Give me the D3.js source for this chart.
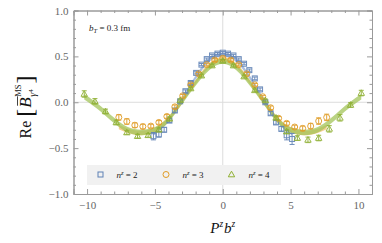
<!DOCTYPE html>
<html><head><meta charset="utf-8">
<script src="https://cdn.jsdelivr.net/npm/d3@7"></script>
<style>body{margin:0;background:#fff}svg{display:block}</style>
</head><body>
<svg id="c" width="382" height="243"></svg>
<script>
// ---- data ----
const blueX = [-5.11,-4.71,-4.32,-3.93,-3.53,-3.14,-2.75,-2.36,-1.96,-1.57,-1.18,-0.79,-0.39,0,0.39,0.79,1.18,1.57,1.96,2.36,2.75,3.14,3.53,3.93,4.32,4.71,5.11];
const blueY = [-0.37,-0.35,-0.30,-0.20,-0.09,0.01,0.12,0.21,0.32,0.41,0.47,0.51,0.53,0.54,0.53,0.51,0.47,0.42,0.35,0.26,0.14,0.00,-0.12,-0.22,-0.29,-0.36,-0.40];
const blueErr = [0.04,0.03,0.025,0.02,0.02,0.015,0.015,0.015,0.012,0.012,0.012,0.012,0.012,0.012,0.012,0.012,0.012,0.012,0.012,0.015,0.015,0.015,0.02,0.02,0.025,0.05,0.06];

const orangeX = [-7.66,-7.07,-6.48,-5.89,-5.30,-4.71,-4.12,-3.53,-2.95,-2.36,-1.77,-1.18,-0.59,0,0.59,1.18,1.77,2.36,2.95,3.53,4.12,4.71,5.30,5.89,6.48,7.07,7.66];
const orangeY = [-0.165,-0.21,-0.25,-0.265,-0.26,-0.22,-0.155,-0.05,0.07,0.19,0.31,0.41,0.46,0.48,0.46,0.41,0.31,0.19,0.06,-0.06,-0.175,-0.23,-0.27,-0.285,-0.26,-0.205,-0.165];
const orangeErr = [0.03,0.03,0.025,0.025,0.02,0.02,0.02,0.02,0.015,0.015,0.015,0.015,0.015,0.015,0.015,0.015,0.015,0.015,0.015,0.02,0.02,0.02,0.02,0.025,0.03,0.035,0.035];

const greenX = [-10.21,-9.42,-8.64,-7.85,-7.07,-6.28,-5.50,-4.71,-3.93,-3.14,-2.36,-1.57,-0.79,0,0.79,1.57,2.36,3.14,3.93,4.71,5.50,6.28,7.07,7.85,8.64,9.42,10.21];
const greenY = [0.09,0.01,-0.10,-0.22,-0.33,-0.37,-0.36,-0.30,-0.18,0.02,0.15,0.29,0.40,0.45,0.40,0.28,0.13,0.02,-0.17,-0.32,-0.39,-0.41,-0.39,-0.29,-0.17,-0.03,0.10];
const greenErr = [0.035,0.03,0.025,0.025,0.02,0.02,0.02,0.02,0.02,0.015,0.015,0.015,0.015,0.015,0.015,0.015,0.015,0.015,0.02,0.02,0.025,0.03,0.03,0.035,0.035,0.025,0.03];

// fitted bands (centre values)
const blueBandX = [-5.11,-4,-3,-2,-1,0,1,2,3,4,5.11];
const blueBandY = [-0.34,-0.19,0.03,0.27,0.46,0.52,0.46,0.27,0.03,-0.19,-0.34];
const orangeBandX = [-7.66,-7,-6,-5,-4,-3,-2,-1,0,1,2,3,4,5,6,7,7.66];
const orangeBandY = [-0.27,-0.31,-0.335,-0.30,-0.18,0.01,0.22,0.40,0.47,0.40,0.22,0.01,-0.18,-0.30,-0.335,-0.31,-0.27];
const greenBandX = [-10.21,-9,-8,-7,-6,-5,-4,-3,-2,-1,0,1,2,3,4,5,6,7,8,9,10.21];
const greenBandY = [0.06,-0.07,-0.20,-0.30,-0.33,-0.30,-0.19,0.01,0.21,0.38,0.45,0.38,0.21,0.01,-0.19,-0.30,-0.33,-0.30,-0.20,-0.07,0.06];

const xMajor = [-10,-5,0,5,10];
const yMajor = [-1,-0.5,0,0.5,1];
const legendLabels = ["2","3","4"];

// ---- drawing ----
const svg = d3.select("#c");
const x = d3.scaleLinear([-11,11],[73.5,372]);
const y = d3.scaleLinear([-1,1],[194,10.5]);
const FONT = "'Liberation Serif', 'Times New Roman', serif";
const frameCol = "#9a9a9a";

// grid lines at 0
svg.append("line").attr("x1",x(0)).attr("x2",x(0)).attr("y1",y(1)).attr("y2",y(-1)).attr("stroke","#dcdcdc").attr("stroke-width",1);
svg.append("line").attr("x1",x(-11)).attr("x2",x(11)).attr("y1",y(0)).attr("y2",y(0)).attr("stroke","#dcdcdc").attr("stroke-width",1);

// legend background
svg.append("rect").attr("x",87).attr("y",165).attr("width",194).attr("height",20).attr("fill","#f1f1f1");

// axes
const xMinor = d3.range(-11,12,1).filter(v=>!xMajor.includes(v) && v>-11 && v<11);
const yMinor = d3.range(-10,11,1).map(v=>v/10).filter(v=>!yMajor.some(m=>Math.abs(m-v)<1e-9));
function styleAxis(g){
  g.attr("font-family",FONT).attr("font-size",11);
  g.select(".domain").attr("stroke",frameCol);
  g.selectAll(".tick line").attr("stroke",frameCol);
  g.selectAll("text").attr("fill","#666").attr("font-family",FONT).attr("font-size",11);
}
svg.append("g").attr("transform",`translate(0,${y(-1)})`)
  .call(d3.axisBottom(x).tickValues(xMajor).tickSize(-5).tickPadding(7).tickFormat(d3.format("d"))).call(styleAxis);
svg.append("g").attr("transform",`translate(0,${y(-1)})`)
  .call(d3.axisBottom(x).tickValues(xMinor).tickSize(-2.5).tickFormat("")).call(styleAxis);
svg.append("g").attr("transform",`translate(0,${y(1)})`)
  .call(d3.axisTop(x).tickValues(xMajor).tickSize(-5).tickFormat("")).call(styleAxis);
svg.append("g").attr("transform",`translate(0,${y(1)})`)
  .call(d3.axisTop(x).tickValues(xMinor).tickSize(-2.5).tickFormat("")).call(styleAxis);
svg.append("g").attr("transform",`translate(${x(-11)},0)`)
  .call(d3.axisLeft(y).tickValues(yMajor).tickSize(-5).tickPadding(5).tickFormat(d3.format(".1f"))).call(styleAxis);
svg.append("g").attr("transform",`translate(${x(-11)},0)`)
  .call(d3.axisLeft(y).tickValues(yMinor).tickSize(-2.5).tickFormat("")).call(styleAxis);
svg.append("g").attr("transform",`translate(${x(11)},0)`)
  .call(d3.axisRight(y).tickValues(yMajor).tickSize(-5).tickFormat("")).call(styleAxis);
svg.append("g").attr("transform",`translate(${x(11)},0)`)
  .call(d3.axisRight(y).tickValues(yMinor).tickSize(-2.5).tickFormat("")).call(styleAxis);

// series
const series = [
  {xs:blueX, ys:blueY, es:blueErr, bx:blueBandX, by:blueBandY, col:"#5e81b5", band:"#8fa9d6", hw:0.022, shape:"square"},
  {xs:orangeX, ys:orangeY, es:orangeErr, bx:orangeBandX, by:orangeBandY, col:"#e19c24", band:"#f0bf6e", hw:0.025, shape:"circle"},
  {xs:greenX, ys:greenY, es:greenErr, bx:greenBandX, by:greenBandY, col:"#8fb032", band:"#a3c45a", hw:0.03, shape:"triangle"}
];

// bands
series.forEach(s=>{
  const pts = s.bx.map((v,i)=>({x:v,y:s.by[i]}));
  const area = d3.area().curve(d3.curveMonotoneX).x(d=>x(d.x)).y0(d=>y(d.y-s.hw)).y1(d=>y(d.y+s.hw));
  svg.append("path").attr("d",area(pts)).attr("fill",s.band).attr("fill-opacity",0.75);
});

function marker(g, shape, cx, cy, col){
  if(shape==="square") g.append("rect").attr("x",cx-2.5).attr("y",cy-2.5).attr("width",5).attr("height",5).attr("fill","none").attr("stroke",col).attr("stroke-width",1);
  else if(shape==="circle") g.append("circle").attr("cx",cx).attr("cy",cy).attr("r",3).attr("fill","none").attr("stroke",col).attr("stroke-width",1);
  else g.append("path").attr("d",`M${cx},${cy-3.3}L${cx+3.2},${cy+2.3}L${cx-3.2},${cy+2.3}Z`).attr("fill","none").attr("stroke",col).attr("stroke-width",1);
}

series.forEach(s=>{
  const g = svg.append("g").attr("opacity",0.9);
  s.xs.forEach((v,i)=>{
    const cx = x(v), cy = y(s.ys[i]);
    const t = y(s.ys[i]+s.es[i]), b = y(s.ys[i]-s.es[i]);
    g.append("line").attr("x1",cx).attr("x2",cx).attr("y1",t).attr("y2",b).attr("stroke",s.col).attr("stroke-width",1);
    g.append("line").attr("x1",cx-2.5).attr("x2",cx+2.5).attr("y1",t).attr("y2",t).attr("stroke",s.col).attr("stroke-width",1);
    g.append("line").attr("x1",cx-2.5).attr("x2",cx+2.5).attr("y1",b).attr("y2",b).attr("stroke",s.col).attr("stroke-width",1);
    marker(g, s.shape, cx, cy, s.col);
  });
});

// legend
const legX = [100.5,166,231.5], legTX = [116.5,182.5,248.5];
series.forEach((s,i)=>{
  marker(svg, s.shape, legX[i], 174.5, s.col);
  const t = svg.append("text").attr("x",legTX[i]).attr("y",178).attr("font-family",FONT).attr("font-size",9).attr("fill","#222");
  t.append("tspan").attr("font-style","italic").text("n");
  t.append("tspan").attr("font-style","italic").attr("font-size",6.5).attr("dy",-3.5).text("z");
  t.append("tspan").attr("dy",3.5).text(" = "+legendLabels[i]);
});

// annotation
const ann = svg.append("text").attr("x",89).attr("y",31).attr("font-family",FONT).attr("font-size",9).attr("fill","#222");
ann.append("tspan").attr("font-style","italic").text("b");
ann.append("tspan").attr("font-style","italic").attr("font-size",6.5).attr("dy",2).text("T");
ann.append("tspan").attr("dy",-2).text(" = 0.3 fm");

// x label
const xl = svg.append("text").attr("x",x(0)).attr("y",233).attr("text-anchor","middle").attr("font-family",FONT).attr("font-size",15).attr("fill","#111");
xl.append("tspan").attr("font-style","italic").text("P");
xl.append("tspan").attr("font-style","italic").attr("font-size",9.5).attr("dy",-6).text("z");
xl.append("tspan").attr("font-style","italic").attr("dy",6).attr("dx",1).text("b");
xl.append("tspan").attr("font-style","italic").attr("font-size",9.5).attr("dy",-6).text("z");

// y label (rotated, laid out piece by piece)
const yg = svg.append("g").attr("transform","translate(31,107) rotate(-90)");
const inner = yg.append("g");
let cx = 0;
function piece(txt, size, italic, dy){
  const t = inner.append("text").attr("x",cx).attr("y",dy).attr("font-family",FONT).attr("font-size",size).attr("fill","#111").attr("font-style",italic?"italic":"normal").text(txt);
  const w = t.node().getComputedTextLength();
  return {t,w};
}
let p = piece("Re",16,false,0); cx += p.w + 4;
p = piece("[",24,false,2); cx += p.w + 1;
const bx0 = cx; p = piece("B",17,true,0); 
inner.append("line").attr("x1",bx0+2).attr("x2",bx0+p.w+1).attr("y1",-13.5).attr("y2",-13.5).attr("stroke","#111").attr("stroke-width",0.8);
cx += p.w + 0.5;
const sx = cx;
const ms = piece("MS",8.5,false,-10);
const gm = piece("γ",10,true,5); cx += gm.w;
const four = piece("4",7,false,1.5); cx = Math.max(sx+ms.w, cx+four.w) + 1;
p = piece("]",24,false,2); cx += p.w;
inner.attr("transform",`translate(${-cx/2},0)`);
</script>
</body></html>
